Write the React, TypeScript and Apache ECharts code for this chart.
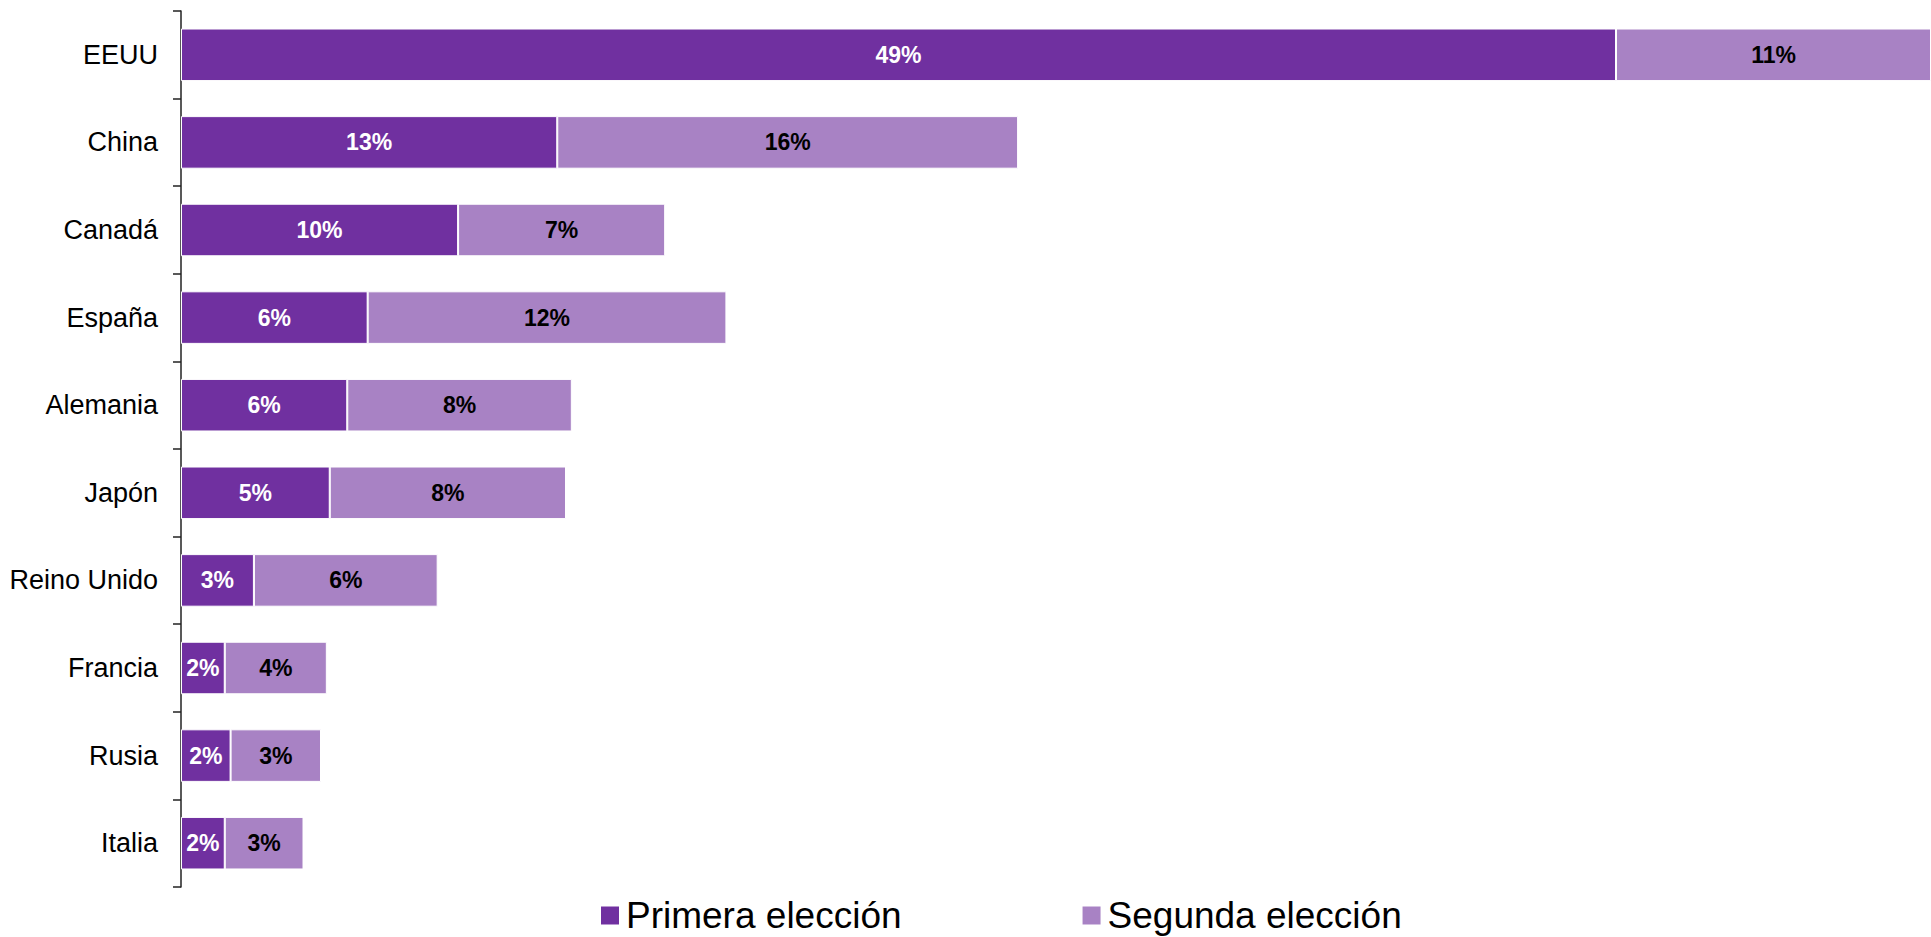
import React, { useEffect, useRef } from "react";
import * as echarts from "echarts";

const categories = [
  "EEUU",
  "China",
  "Canadá",
  "España",
  "Alemania",
  "Japón",
  "Reino Unido",
  "Francia",
  "Rusia",
  "Italia",
];
const primeraEleccion = [49.2, 12.9, 9.5, 6.4, 5.7, 5.1, 2.5, 1.5, 1.7, 1.5];
const segundaEleccion = [10.8, 15.8, 7.1, 12.3, 7.7, 8.1, 6.3, 3.5, 3.1, 2.7];
const seriesNames = ["Primera elección", "Segunda elección"];

const FONT = "'Liberation Sans', Arial, sans-serif";

export default function App() {
  const ref = useRef<HTMLDivElement>(null);
  useEffect(() => {
    if (!ref.current) return;
    const chart = echarts.init(ref.current, null, { renderer: "svg" });
    const fmt = (p: any) => Math.round(p.value) + "%";
    chart.setOption({
      animation: false,
      textStyle: { fontFamily: FONT },
      grid: { left: 181, right: 0, top: 11, bottom: 50, containLabel: false },
      legend: {
        left: 594,
        top: 892,
        itemWidth: 20,
        itemHeight: 20,
        itemGap: 179,
        icon: "rect",
        textStyle: {
          fontSize: 37,
          lineHeight: 36,
          color: "#000",
          fontFamily: FONT,
          padding: [0, 0, 0, 1],
        },
        data: seriesNames,
      },
      xAxis: {
        type: "value",
        min: 0,
        max: 60,
        show: false,
      },
      yAxis: {
        type: "category",
        inverse: true,
        data: categories,
        axisLine: { show: true, lineStyle: { color: "#222", width: 1.5 } },
        axisTick: { show: true, length: 8, lineStyle: { color: "#222", width: 1.5 } },
        axisLabel: { fontSize: 27, color: "#000", margin: 23, fontFamily: FONT },
      },
      series: [
        {
          name: seriesNames[0],
          type: "bar",
          stack: "total",
          barCategoryGap: "40%",
          data: primeraEleccion,
          itemStyle: { color: "#7030A0", borderColor: "#fff", borderWidth: 1 },
          label: {
            show: true,
            position: "inside",
            formatter: fmt,
            color: "#fff",
            fontSize: 23,
            fontWeight: "bold",
            fontFamily: FONT,
          },
        },
        {
          name: seriesNames[1],
          type: "bar",
          stack: "total",
          barCategoryGap: "40%",
          data: segundaEleccion,
          itemStyle: { color: "#A882C4", borderColor: "#fff", borderWidth: 1 },
          label: {
            show: true,
            position: "inside",
            formatter: fmt,
            color: "#000",
            fontSize: 23,
            fontWeight: "bold",
            fontFamily: FONT,
          },
        },
      ],
    });
    return () => chart.dispose();
  }, []);
  return (
    <div
      ref={ref}
      style={{ position: "fixed", left: 0, top: 0, width: 1931, height: 937, background: "#fff" }}
    />
  );
}
